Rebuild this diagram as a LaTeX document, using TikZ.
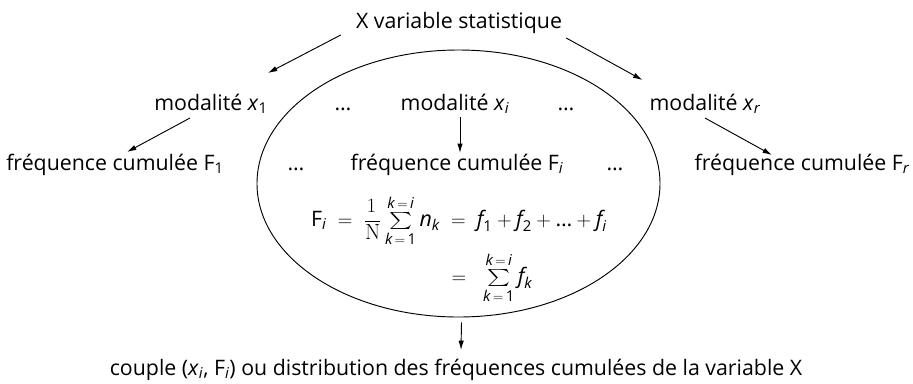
\documentclass[tikz,border=0pt]{standalone}
\usepackage{amsmath}
\usepackage{graphicx}
\usepackage[no-math]{fontspec}
\setmainfont{Open Sans}
\usepackage{tikz}
\usetikzlibrary{arrows.meta,shapes.geometric,calc}
\newcommand{\ital}[1]{\textit{#1}}
\newcommand{\bigsig}{\mathop{\vcenter{\hbox{\resizebox*{0.69cm}{0.51cm}{$\sum$}}}}\limits}
\newcommand{\oneoverN}{\dfrac{\resizebox{!}{0.39cm}{$1$}}{\resizebox{!}{0.45cm}{$\mathrm{N}$}}}

\begin{document}
\begin{tikzpicture}[x=0.03cm,y=-0.03cm,
  lbl/.style={inner sep=0pt,anchor=base,font=\fontsize{18.2}{22}\selectfont},
  arr/.style={-{Latex[length=8pt,width=4.6pt]},line width=0.8pt}]
\useasboundingbox (0,0) rectangle (913,383);
% the oval round the i-th branch
\node[draw,ellipse,line width=0.8pt,inner sep=0pt,minimum width=12.09cm,minimum height=8.01cm] (oval) at (458.5,183.5) {};
% top
\node[lbl] (var) at (459,28) {X variable statistique};
% modalities
\node[lbl] (m1) at (211,110) {modalité \ital{x}\textsubscript{1}};
\node[lbl] (d1) at (343,110) {\ldots};
\node[lbl] (mi) at (455,110) {modalité \ital{x}\textsubscript{\itshape i}};
\node[lbl] (d2) at (566,110) {\ldots};
\node[lbl] (mr) at (705,110) {modalité \ital{x}\textsubscript{\itshape r}};
% cumulated frequencies
\node[lbl] (F1) at (115,170) {fréquence cumulée F\textsubscript{1}};
\node[lbl] (d3) at (296,170) {\ldots};
\node[lbl] (Fi) at (457,170) {fréquence cumulée F\textsubscript{\itshape i}};
\node[lbl] (d4) at (615,170) {\ldots};
\node[lbl] (Fr) at (802,170) {fréquence cumulée F\textsubscript{\itshape r}};
% formula
\node[lbl] (fa) at (459,226) {$\text{F}_{\ital{i}} \;=\; \oneoverN\bigsig_{\ital{k}\,=\,\text{1}}^{\ital{k}\,=\,\ital{i}} \ital{n}_{\ital{k}} \;=\; \ital{f}_{\text{1}} + \ital{f}_{\text{2}} + \text{\ldots} + \ital{f}_{\ital{i}}$};
\node[lbl] (fb) at (492,283) {$=\;\; \bigsig_{\ital{k}\,=\,\text{1}}^{\ital{k}\,=\,\ital{i}} \ital{f}_{\ital{k}}$};
% result
\node[lbl] (res) at (456,375) {couple (\ital{x}\textsubscript{\itshape i}, F\textsubscript{\itshape i}) ou distribution des fréquences cumulées de la variable X};

\draw[arr] ($(var.base west)+(-15,7)$) -- ($(m1.base east)+(0,-37)$);
\draw[arr] ($(var.base east)+(4,10)$) -- ($(mr.base west)+(-7,-30)$);
\draw[arr] ($(m1.base)+(-21,8)$) -- ($(F1.base)+(12,-18)$);
\draw[arr] ($(mi.base)+(5,7)$) -- ($(Fi.base)+(3,-17)$);
\draw[arr] ($(mr.base)+(0,8)$) -- ($(Fr.base)+(-30,-15)$);
\draw[arr] ($(oval.south)+(3,5)$) -- ($(res.base)+(5,-25)$);
\end{tikzpicture}
\end{document}
